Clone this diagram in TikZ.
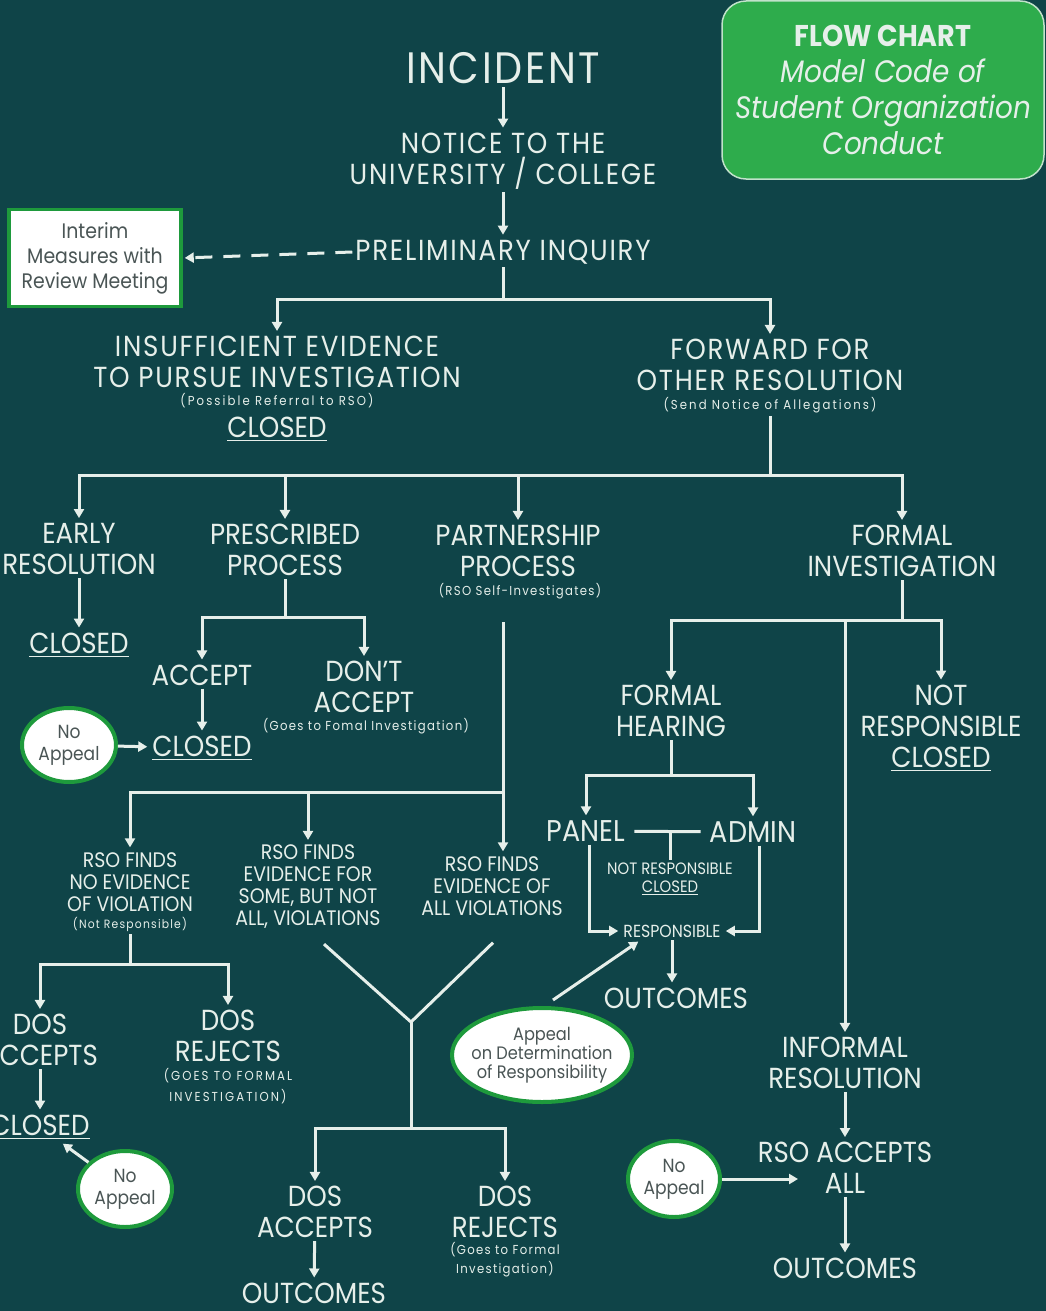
\documentclass[tikz,border=0pt]{standalone}
\usepackage{fontspec}
\setmainfont{Poppins}[FakeStretch=0.9]
\newfontfamily\spacedfont{Poppins}[FakeStretch=0.9, LetterSpace=6]
\newfontfamily\notefont{Poppins}[FakeStretch=0.9, LetterSpace=10]
\newfontfamily\widenotefont{Poppins}[FakeStretch=0.9, LetterSpace=16]
\usetikzlibrary{arrows.meta, positioning, shapes.geometric, calc}

\definecolor{bgteal}{HTML}{0F4448}
\definecolor{chalk}{HTML}{E6EFEA}
\definecolor{boxgreen}{HTML}{2EAC4C}
\definecolor{rimgreen}{HTML}{1E9A3C}
\definecolor{inkgrey}{HTML}{4A5555}

\newcommand{\undl}[1]{\setbox0\hbox{#1}\rlap{\rule[-0.14em]{\wd0}{0.05em}}\box0}

\begin{document}
\begin{tikzpicture}[
    x=1pt, y=-1pt,
    every node/.style={text=chalk, align=center, inner sep=3pt},
    headtxt/.style={font=\spacedfont\fontsize{44}{46}\selectfont},
    toplbl/.style={font=\spacedfont\fontsize{29}{31}\selectfont},
    lbl/.style={font=\fontsize{29}{31}\selectfont},
    sublbl/.style={font=\fontsize{21}{22}\selectfont},
    smalllbl/.style={font=\fontsize{16.5}{18}\selectfont},
    note/.style={font=\notefont\fontsize{13}{19}\selectfont},
    widenote/.style={font=\widenotefont\fontsize{13}{21}\selectfont},
    titlebox/.style={rectangle, rounded corners=24pt, fill=boxgreen, draw=chalk!80!boxgreen, line width=1.5pt, minimum width=322pt, minimum height=178pt, font=\fontsize{31}{36}\selectfont},
    interimbox/.style={rectangle, fill=white, draw=rimgreen, line width=3.5pt, minimum width=172pt, minimum height=97pt, text=inkgrey, font=\fontsize{21}{25}\selectfont},
    bubble/.style={ellipse, fill=white, draw=rimgreen, line width=4pt, text=inkgrey, inner sep=0pt, font=\fontsize{19}{22}\selectfont},
    link/.style={draw=chalk, line width=3pt},
    arrow/.style={link, -{Triangle[length=9pt, width=10pt]}, shorten >=2pt},
]

\path[use as bounding box] (0,0) rectangle (1046,1311);
\fill[bgteal] (0,0) rectangle (1046,1311);
\clip (0,0) rectangle (1046,1311);

% ============ TOP ============
\node[titlebox] (title) at (883,90) {{\fontsize{30}{36}\selectfont\bfseries FLOW CHART}\\\itshape Model Code of\\\itshape Student Organization\\\itshape Conduct};

\node[headtxt] (incident) at (503,68) {INCIDENT};
\node[toplbl] (notice) at (503,161) {NOTICE TO THE\\UNIVERSITY / COLLEGE};
\node[toplbl] (prelim) at (503,252) {PRELIMINARY INQUIRY};
\node[interimbox] (interim) at (95,258) {Interim\\Measures with\\Review Meeting};

\draw[arrow] (incident) -- (notice);
\draw[arrow] (notice) -- (prelim);
\draw[arrow, dash pattern=on 17pt off 11pt] (prelim.west) -- (interim.east);

% ============ FIRST SPLIT ============
\node[toplbl] (insuff) at (277,362) {INSUFFICIENT EVIDENCE\\TO PURSUE INVESTIGATION};
\node[widenote] (insuffnote) at (277,401) {(Possible Referral to RSO)};
\node[lbl] (insuffclosed) at (277,429) {\undl{CLOSED}};

\node[toplbl] (forward) at (770,365) {FORWARD FOR\\OTHER RESOLUTION};
\node[widenote] (fwdnote) at (770,405) {(Send Notice of Allegations)};

\coordinate (split1) at (503,299);
\draw[link] (prelim) -- (split1);
\draw[arrow] (split1) -| (insuff);
\draw[arrow] (split1) -| (forward);

% ============ FOUR PROCESSES ============
\node[lbl] (early) at (79,549) {EARLY\\RESOLUTION};
\node[lbl] (prescribed) at (285,550) {PRESCRIBED\\PROCESS};
\node[lbl] (partner) at (518,551) {PARTNERSHIP\\PROCESS};
\node[note] (partnote) at (520,591) {(RSO Self-Investigates)};
\node[lbl] (formalinv) at (902,551) {FORMAL\\INVESTIGATION};

\coordinate (split2) at (770,475);
\draw[link] (fwdnote) -- (split2);
\draw[arrow] (split2) -| (early);
\draw[arrow] (split2) -| (prescribed);
\draw[arrow] (split2) -| (partner);
\draw[arrow] (split2) -| (formalinv);

% early resolution
\node[lbl] (earlyclosed) at (79,645) {\undl{CLOSED}};
\draw[arrow] (early) -- (earlyclosed);

% prescribed process
\node[lbl] (accept) at (202,675) {ACCEPT};
\node[lbl] (dontaccept) at (364,687) {DON'T\\ACCEPT};
\node[note] (dontnote) at (366,726) {(Goes to Fomal Investigation)};
\node[lbl] (acceptclosed) at (202,748) {\undl{CLOSED}};
\node[bubble, minimum width=94pt, minimum height=74pt] (noappeal1) at (69,745) {No\\Appeal};

\coordinate (split3) at (285,617);
\draw[link] (prescribed) -- (split3);
\draw[arrow] (split3) -| (accept);
\draw[arrow] (split3) -| (dontaccept);
\draw[arrow] (accept) -- (acceptclosed);
\draw[arrow] (noappeal1) -- (acceptclosed);

% ============ PARTNERSHIP PROCESS ============
\node[sublbl] (nofinds) at (130,882) {RSO FINDS\\NO EVIDENCE\\OF VIOLATION};
\node[note, font=\notefont\fontsize{12}{14}\selectfont] (nofindsnote) at (130,924) {(Not Responsible)};
\node[sublbl] (somefinds) at (308,887) {RSO FINDS\\EVIDENCE FOR\\SOME, BUT NOT\\ALL, VIOLATIONS};
\node[sublbl] (allfinds) at (492,886) {RSO FINDS\\EVIDENCE OF\\ALL VIOLATIONS};

\coordinate (split4) at (503,792);
\draw[link] ([yshift=-20pt]partnote.south -| split4) -- (split4);
\draw[arrow] (split4) -- (split4 |- allfinds.north);
\draw[arrow] (split4) -| (nofinds);
\draw[arrow] (split4) -| (somefinds);

% no evidence branch
\node[lbl] (dosacc1) at (40,1040) {DOS\\ACCEPTS};
\node[lbl] (dosrej1) at (228,1036) {DOS\\REJECTS};
\node[widenote] (dosrej1note) at (228,1086) {(GOES TO FORMAL\\INVESTIGATION)};
\node[lbl] (closed2) at (40,1127) {\undl{CLOSED}};
\node[bubble, minimum width=94pt, minimum height=76pt] (noappeal2) at (125,1189) {No\\Appeal};

\coordinate (split5) at (130,964);
\draw[link] (nofindsnote) -- (split5);
\draw[arrow] (split5) -| (dosacc1);
\draw[arrow] (split5) -| (dosrej1);
\draw[arrow] (dosacc1) -- (closed2);
\draw[arrow] (noappeal2) -- (closed2);

% some / all violations merge
\coordinate (fork) at (411,1022);
\coordinate (split6) at (411,1128);
\draw[link] ([xshift=16pt,yshift=-12pt]somefinds.south) -- (fork) -- ([xshift=1pt,yshift=-24pt]allfinds.south);
\draw[link] (fork) -- (split6);

\node[lbl] (dosacc2) at (315,1212) {DOS\\ACCEPTS};
\node[lbl] (dosrej2) at (505,1212) {DOS\\REJECTS};
\node[note, font=\notefont\fontsize{13}{19}\selectfont] (dosrej2note) at (505,1260) {(Goes to Formal\\Investigation)};
\node[lbl] (outcomes1) at (314,1293) {OUTCOMES};

\draw[arrow] (split6) -| (dosacc2);
\draw[arrow] (split6) -| (dosrej2);
\draw[arrow] (dosacc2) -- (outcomes1);

% ============ FORMAL INVESTIGATION ============
\node[lbl] (hearing) at (671,711) {FORMAL\\HEARING};
\node[lbl] (notresp) at (941,728) {NOT\\RESPONSIBLE\\\undl{CLOSED}};
\node[lbl] (informal) at (845,1063) {INFORMAL\\RESOLUTION};

\coordinate (split7) at (902,620);
\draw[link] (formalinv) -- (split7);
\draw[arrow] (split7) -| (hearing);
\draw[arrow] (split7) -| (notresp);
\draw[arrow] (split7 -| informal) -- (informal);

% formal hearing
\node[lbl, font=\fontsize{30}{30}\selectfont] (panel) at (586,831) {PANEL};
\node[lbl, font=\fontsize{30}{30}\selectfont] (admin) at (753,832) {ADMIN};
\node[smalllbl] (notrespsmall) at (670,879) {NOT RESPONSIBLE\\\undl{CLOSED}};
\node[smalllbl, font=\fontsize{17.5}{18}\selectfont] (responsible) at (672,931) {RESPONSIBLE};
\node[lbl] (outcomes2) at (676,998) {OUTCOMES};
\node[bubble, minimum width=180pt, minimum height=94pt, inner xsep=-14pt, font=\fontsize{18}{19}\selectfont] (appeal) at (542,1055) {Appeal\\on Determination\\of Responsibility};

\coordinate (split9) at (671,775);
\coordinate (tee) at (670,832);
\draw[link] (hearing) -- (split9);
\draw[arrow] (split9) -| (panel);
\draw[arrow] (split9) -| (admin);
\draw[link, shorten <=6pt, shorten >=6pt] (panel) -- (admin);
\draw[link] (tee) -- (notrespsmall);
\draw[arrow] ([xshift=3pt]panel.south) |- (responsible);
\draw[arrow] ([xshift=6pt]admin.south) |- (responsible);
\draw[arrow] (responsible) -- (responsible |- outcomes2.north);
\draw[arrow] ([xshift=11pt,yshift=6pt]appeal.north) -- ([xshift=-32pt]responsible.south);

% informal resolution
\node[lbl] (rsoaccepts) at (845,1168) {RSO ACCEPTS\\ALL};
\node[lbl] (outcomes3) at (845,1268) {OUTCOMES};
\node[bubble, minimum width=92pt, minimum height=76pt] (noappeal3) at (674,1179) {No\\Appeal};
\coordinate (allin) at (800,1179);

\draw[arrow] (informal) -- (rsoaccepts);
\draw[arrow] (rsoaccepts) -- (outcomes3);
\draw[arrow] (noappeal3) -- (allin);

\end{tikzpicture}
\end{document}
